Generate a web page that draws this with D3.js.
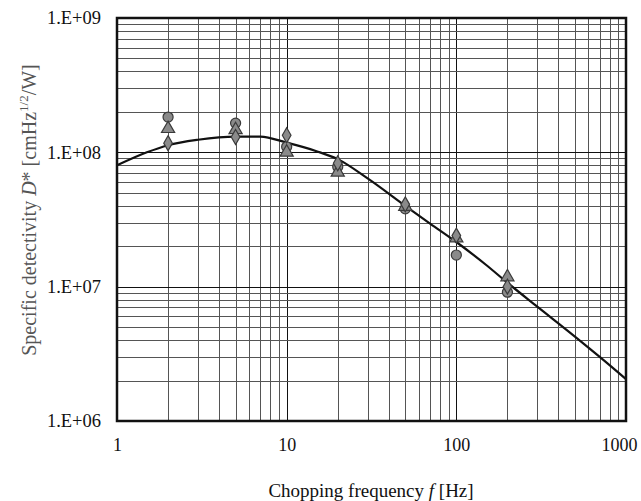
<!DOCTYPE html>
<html>
<head>
<meta charset="utf-8">
<script src="https://cdn.jsdelivr.net/npm/d3@7"></script>
<style>
  body { margin: 0; background: #fff; }
  svg { display: block; font-family: "Liberation Serif", "Times New Roman", serif; }
</style>
</head>
<body>
<script>
// chopping frequency of the measured points [Hz]
var freqs = [2, 5, 10, 20, 50, 100, 200];
// measured D* for the three samples
var circleVals   = [1.83e8, 1.65e8, 1.10e8, 7.8e7, 3.8e7, 1.72e7, 9.1e6];
var triangleVals = [1.50e8, 1.47e8, 1.00e8, 7.1e7, 3.95e7, 2.3e7, 1.18e7];
var diamondVals  = [1.17e8, 1.30e8, 1.34e8, 8.3e7, 4.1e7, 2.4e7, 1.0e7];
// fitted curve
var fitF = [1, 1.5, 2, 3, 5, 7, 10, 15, 20, 30, 50, 70, 100, 150, 200, 300, 500, 700, 1000];
var fitD = [8.0e7, 1.0e8, 1.13e8, 1.24e8, 1.31e8, 1.31e8, 1.18e8, 1.02e8, 8.9e7, 6.4e7, 4.0e7, 2.95e7, 2.15e7, 1.45e7, 1.07e7, 7.1e6, 4.25e6, 3.0e6, 2.05e6];
var xTicks = [1, 10, 100, 1000];
var yTicks = [1e6, 1e7, 1e8, 1e9];

var W = 641, H = 501;
var margin = { top: 18, right: 15, bottom: 80, left: 117 };
var width = W - margin.left - margin.right;
var height = H - margin.top - margin.bottom;

var x = d3.scaleLog().domain([1, 1000]).range([0, width]);
var y = d3.scaleLog().domain([1e6, 1e9]).range([height, 0]);

var svg = d3.select("body").append("svg")
    .attr("width", W)
    .attr("height", H);

var g = svg.append("g")
    .attr("transform", "translate(" + margin.left + "," + margin.top + ")");

// log grid, 1..9 in every decade
var xGrid = [], yGrid = [];
[1, 10, 100].forEach(function (d) {
    for (var k = 1; k <= 9; k++) xGrid.push(d * k);
});
xGrid.push(1000);
[1e6, 1e7, 1e8].forEach(function (d) {
    for (var k = 1; k <= 9; k++) yGrid.push(d * k);
});
yGrid.push(1e9);

g.append("g").selectAll("line")
    .data(xGrid)
    .enter().append("line")
    .attr("x1", function (d) { return Math.round(x(d)) + 0.5; })
    .attr("x2", function (d) { return Math.round(x(d)) + 0.5; })
    .attr("y1", 0)
    .attr("y2", height)
    .attr("stroke", function (d) { return xTicks.indexOf(d) >= 0 ? "#111" : "#555"; })
    .attr("stroke-width", 1);

g.append("g").selectAll("line")
    .data(yGrid)
    .enter().append("line")
    .attr("y1", function (d) { return Math.round(y(d)) + 0.5; })
    .attr("y2", function (d) { return Math.round(y(d)) + 0.5; })
    .attr("x1", 0)
    .attr("x2", width)
    .attr("stroke", function (d) { return yTicks.indexOf(d) >= 0 ? "#111" : "#555"; })
    .attr("stroke-width", 1);

// frame
g.append("rect")
    .attr("width", width)
    .attr("height", height)
    .attr("fill", "none")
    .attr("stroke", "#111")
    .attr("stroke-width", 2.5);

// fitted curve
var line = d3.line()
    .x(function (d) { return x(d[0]); })
    .y(function (d) { return y(d[1]); })
    .curve(d3.curveMonotoneX);

g.append("path")
    .datum(d3.zip(fitF, fitD))
    .attr("d", line)
    .attr("fill", "none")
    .attr("stroke", "#111")
    .attr("stroke-width", 2.2);

// markers
function markers(vals, type, size) {
    g.append("g").selectAll("path")
        .data(d3.zip(freqs, vals))
        .enter().append("path")
        .attr("transform", function (d) { return "translate(" + x(d[0]) + "," + y(d[1]) + ")"; })
        .attr("d", d3.symbol().type(type).size(size))
        .attr("fill", "#8a8a8a")
        .attr("stroke", "#3a3a3a")
        .attr("stroke-width", 1.2);
}
markers(circleVals, d3.symbolCircle, 80);
markers(triangleVals, d3.symbolTriangle, 75);
markers(diamondVals, d3.symbolDiamond, 65);

// axes labels
var xAxis = g.append("g")
    .attr("transform", "translate(0," + height + ")")
    .call(d3.axisBottom(x).tickValues(xTicks).tickSize(0).tickPadding(17).tickFormat(d3.format("d")));
xAxis.select(".domain").remove();
xAxis.selectAll("text")
    .attr("font-family", "Liberation Serif, serif")
    .attr("font-size", 18)
    .attr("fill", "#111");
// keep the last label inside the window
xAxis.selectAll("text")
    .filter(function (d) { return d === 1000; })
    .attr("text-anchor", "end")
    .attr("dx", 11);

var yAxis = g.append("g")
    .call(d3.axisLeft(y).tickValues(yTicks).tickSize(0).tickPadding(16)
        .tickFormat(function (d) { return "1.E+" + d3.format("02d")(Math.round(Math.log10(d))); }));
yAxis.select(".domain").remove();
yAxis.selectAll("text")
    .attr("font-family", "Liberation Serif, serif")
    .attr("font-size", 18.5)
    .attr("fill", "#111");

// x title
var xt = svg.append("text")
    .attr("x", 371)
    .attr("y", 497)
    .attr("text-anchor", "middle")
    .attr("font-size", 19)
    .attr("fill", "#111");
xt.append("tspan").text("Chopping frequency ");
xt.append("tspan").attr("font-style", "italic").text("f");
xt.append("tspan").text(" [Hz]");

// y title
var yt = svg.append("text")
    .attr("transform", "translate(36,210) rotate(-90)")
    .attr("text-anchor", "middle")
    .attr("font-size", 20)
    .attr("fill", "#555");
yt.append("tspan").text("Specific detectivity ");
yt.append("tspan").attr("font-style", "italic").text("D");
yt.append("tspan").text("*  [cmHz");
yt.append("tspan").attr("font-size", 13).attr("dy", -8).text("1/2");
yt.append("tspan").attr("dy", 8).text("/W]");
</script>
</body>
</html>
